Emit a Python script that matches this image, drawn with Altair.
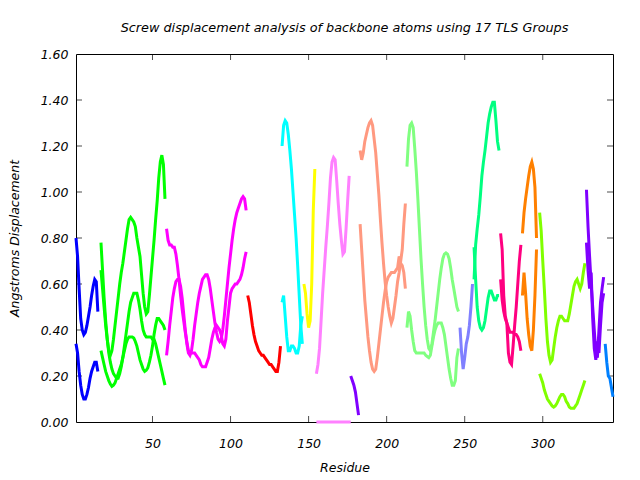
import altair as alt
import pandas as pd

# ---------------- axis ticks ----------------
x_ticks = [50, 100, 150, 200, 250, 300]
y_ticks = [0.2, 0.4, 0.6, 0.8, 1.0, 1.2, 1.4]
x_domain = [1, 345]
y_domain = [0.0, 1.6]

# ---------------- TLS groups & colours ----------------
groups = ["G01", "G02", "G03", "G04", "G05", "G06", "G07", "G08", "G09",
          "G10", "G11", "G12", "G13", "G14", "G15", "G16", "G17"]
group_colors = ["#0000FF", "#00FF00", "#FF00FF", "#FF0000", "#00FFFF", "#FFFF00",
                "#FF80FF", "#8000FF", "#FF9980", "#80FF80", "#8080FF", "#00FF80",
                "#FF0080", "#FF8000", "#80FF00", "#8000FF", "#0080FF"]

# ---------------- series values (start residue + values) ----------------
g01_start = 1
g01_a = [0.80, 0.72, 0.58, 0.45, 0.40, 0.38, 0.39, 0.42, 0.46, 0.50, 0.55, 0.59, 0.62, 0.61, 0.48]
g01_b = [0.34, 0.30, 0.22, 0.16, 0.12, 0.10, 0.10, 0.12, 0.15, 0.19, 0.22, 0.24, 0.26, 0.26, 0.22]

g02_start = 17
g02_a = [0.78, 0.66, 0.54, 0.44, 0.36, 0.31, 0.29, 0.31, 0.36, 0.42, 0.48, 0.54, 0.60, 0.65,
         0.69, 0.74, 0.79, 0.84, 0.88, 0.89, 0.88, 0.87, 0.85, 0.80, 0.76, 0.72, 0.64, 0.56,
         0.50, 0.47, 0.48, 0.55, 0.63, 0.71, 0.79, 0.88, 0.96, 1.06, 1.13, 1.16, 1.12, 0.97]
g02_b = [0.66, 0.58, 0.50, 0.42, 0.36, 0.30, 0.26, 0.23, 0.21, 0.20, 0.19, 0.19, 0.21, 0.24,
         0.28, 0.33, 0.38, 0.43, 0.48, 0.52, 0.54, 0.56, 0.56, 0.56, 0.53, 0.49, 0.44, 0.40,
         0.38, 0.37, 0.37, 0.37, 0.37, 0.36, 0.36, 0.34, 0.31, 0.28, 0.25, 0.22, 0.19, 0.16]
g02_c = [0.31, 0.28, 0.25, 0.22, 0.20, 0.18, 0.165, 0.155, 0.16, 0.17, 0.19, 0.21, 0.23, 0.25,
         0.28, 0.31, 0.34, 0.36, 0.37, 0.37, 0.37, 0.365, 0.35, 0.33, 0.30, 0.27, 0.25, 0.23,
         0.22, 0.225, 0.235, 0.26, 0.29, 0.33, 0.38, 0.42, 0.45, 0.45, 0.44, 0.43, 0.42, 0.40]

g03_start = 59
g03_a = [0.84, 0.79, 0.77, 0.77, 0.76, 0.76, 0.73, 0.68, 0.62, 0.55, 0.49, 0.44, 0.39, 0.35,
         0.31, 0.30, 0.30, 0.30, 0.30, 0.29, 0.28, 0.27, 0.25, 0.24, 0.24, 0.24, 0.26, 0.28,
         0.32, 0.36, 0.39, 0.41, 0.42, 0.41, 0.40, 0.38, 0.34, 0.33, 0.36, 0.44, 0.50, 0.56,
         0.58, 0.59, 0.60, 0.60, 0.61, 0.62, 0.64, 0.67, 0.71, 0.74]
g03_b = [0.29, 0.35, 0.42, 0.48, 0.54, 0.58, 0.61, 0.62, 0.62, 0.59, 0.54, 0.47, 0.40, 0.34,
         0.30, 0.29, 0.31, 0.36, 0.42, 0.47, 0.52, 0.56, 0.59, 0.62, 0.63, 0.64, 0.64, 0.62,
         0.58, 0.53, 0.48, 0.43, 0.39, 0.36, 0.35, 0.36, 0.40, 0.46, 0.53, 0.60, 0.67, 0.73,
         0.79, 0.84, 0.88, 0.91, 0.93, 0.95, 0.97, 0.98, 0.97, 0.92]

g04_start = 111
g04_a = [0.55, 0.52, 0.47, 0.42, 0.38, 0.35, 0.33, 0.31, 0.30, 0.29, 0.29, 0.28, 0.27,
         0.26, 0.25, 0.25, 0.24, 0.23, 0.22, 0.22, 0.26, 0.33]

g05_start = 133
g05_a = [1.20, 1.29, 1.31, 1.30, 1.25, 1.18, 1.10, 1.00, 0.90, 0.80, 0.68, 0.55, 0.42, 0.34]
g05_b = [0.52, 0.55, 0.46, 0.37, 0.31, 0.31, 0.33, 0.33, 0.32, 0.30, 0.30, 0.33, 0.42, 0.46]

g06_start = 147
g06_a = [0.60, 0.56, 0.47, 0.41, 0.44, 0.60, 0.92, 1.10]

g07_start = 155
g07_a = [0.21, 0.25, 0.32, 0.44, 0.56, 0.66, 0.76, 0.85, 0.95, 1.06, 1.13, 1.15, 1.14,
         1.05, 0.95, 0.86, 0.79, 0.73, 0.74, 0.84, 0.96, 1.07]
g07_flat_res = [155, 177]
g07_flat = [0.0, 0.0]

g08_start = 177
g08_a = [0.20, 0.18, 0.16, 0.13, 0.08, 0.03]

g09_start = 183
g09_a = [1.18, 1.14, 1.17, 1.22, 1.25, 1.28, 1.30, 1.31, 1.29, 1.23, 1.17, 1.08, 0.99, 0.88,
         0.78, 0.69, 0.61, 0.55, 0.50, 0.46, 0.43, 0.45, 0.50, 0.55, 0.61, 0.65, 0.70, 0.75,
         0.86, 0.95]
g09_b = [0.86, 0.75, 0.64, 0.53, 0.45, 0.37, 0.31, 0.26, 0.23, 0.22, 0.23, 0.28, 0.34, 0.40,
         0.46, 0.52, 0.57, 0.61, 0.63, 0.64, 0.65, 0.65, 0.65, 0.66, 0.67, 0.72, 0.69, 0.68,
         0.65, 0.58]

g10_start = 213
g10_a = [1.11, 1.23, 1.29, 1.30, 1.28, 1.19, 1.09, 0.97, 0.84, 0.71, 0.60, 0.50, 0.42, 0.36,
         0.32, 0.31, 0.34, 0.39, 0.44, 0.50, 0.56, 0.62, 0.67, 0.71, 0.73, 0.735, 0.73, 0.71,
         0.67, 0.62, 0.58, 0.54, 0.50, 0.48]
g10_b = [0.41, 0.48, 0.46, 0.40, 0.35, 0.31, 0.30, 0.30, 0.30, 0.30, 0.30, 0.30, 0.29, 0.285,
         0.28, 0.29, 0.33, 0.37, 0.40, 0.42, 0.43, 0.43, 0.43, 0.41, 0.38, 0.33, 0.28, 0.23,
         0.19, 0.16, 0.16, 0.18, 0.28, 0.32]

g11_start = 247
g11_a = [0.41, 0.30, 0.23, 0.28, 0.34, 0.37, 0.42, 0.50, 0.60]

g12_start = 256
g12_a = [0.62, 0.77, 0.84, 0.90, 0.98, 1.07, 1.13, 1.18, 1.24, 1.30, 1.34, 1.37, 1.39, 1.39,
         1.31, 1.22, 1.18]
g12_b = [0.76, 0.62, 0.50, 0.44, 0.41, 0.40, 0.41, 0.44, 0.49, 0.54, 0.57, 0.57, 0.55, 0.53,
         0.53, 0.55, 0.55]

g13_start = 273
g13_a = [0.82, 0.75, 0.55, 0.46, 0.43, 0.30, 0.26, 0.25, 0.33, 0.42, 0.50, 0.60, 0.70, 0.77]
g13_b = [0.62, 0.53, 0.48, 0.45, 0.43, 0.41, 0.39, 0.39, 0.39, 0.38, 0.38, 0.37, 0.35, 0.31]

g14_start = 287
g14_a = [0.82, 0.91, 0.97, 1.02, 1.07, 1.11, 1.13, 1.10, 1.02, 0.80]
g14_b = [0.55, 0.65, 0.56, 0.45, 0.38, 0.33, 0.31, 0.40, 0.55, 0.75]

g15_start = 298
g15_a = [0.91, 0.83, 0.70, 0.58, 0.45, 0.35, 0.29, 0.26, 0.27, 0.32, 0.37, 0.41, 0.44, 0.46,
         0.46, 0.45, 0.44, 0.44, 0.44, 0.47, 0.51, 0.55, 0.59, 0.61, 0.62, 0.60, 0.58, 0.60,
         0.65, 0.69]
g15_b = [0.21, 0.19, 0.17, 0.14, 0.12, 0.10, 0.09, 0.08, 0.07, 0.065, 0.07, 0.08, 0.095, 0.11,
         0.12, 0.12, 0.11, 0.09, 0.08, 0.065, 0.06, 0.06, 0.06, 0.07, 0.08, 0.10, 0.12, 0.14,
         0.16, 0.18]

g16_start = 328
g16_a = [1.01, 0.85, 0.72, 0.60, 0.50, 0.40, 0.30, 0.28, 0.40, 0.52, 0.58, 0.63]
g16_b = [0.78, 0.66, 0.58, 0.65, 0.45, 0.32, 0.27, 0.35, 0.30, 0.42, 0.52, 0.56]

g17_start = 340
g17_a = [0.34, 0.26, 0.20, 0.19, 0.15, 0.11]

# ---------------- long table ----------------
curves = [
    ("G01", g01_start, g01_a), ("G01", g01_start, g01_b),
    ("G02", g02_start, g02_a), ("G02", g02_start, g02_b), ("G02", g02_start, g02_c),
    ("G03", g03_start, g03_a), ("G03", g03_start, g03_b),
    ("G04", g04_start, g04_a),
    ("G05", g05_start, g05_a), ("G05", g05_start, g05_b),
    ("G06", g06_start, g06_a),
    ("G07", g07_start, g07_a), ("G07", g07_flat_res, g07_flat),
    ("G08", g08_start, g08_a),
    ("G09", g09_start, g09_a), ("G09", g09_start, g09_b),
    ("G10", g10_start, g10_a), ("G10", g10_start, g10_b),
    ("G11", g11_start, g11_a),
    ("G12", g12_start, g12_a), ("G12", g12_start, g12_b),
    ("G13", g13_start, g13_a), ("G13", g13_start, g13_b),
    ("G14", g14_start, g14_a), ("G14", g14_start, g14_b),
    ("G15", g15_start, g15_a), ("G15", g15_start, g15_b),
    ("G16", g16_start, g16_a), ("G16", g16_start, g16_b),
    ("G17", g17_start, g17_a),
]

rows = []
for ci, (g, start, vals) in enumerate(curves):
    if isinstance(start, list):
        res = start
    else:
        res = [start + i for i in range(len(vals))]
    for r, v in zip(res, vals):
        rows.append({"group": g, "curve": f"c{ci:02d}", "residue": r, "value": v})
df = pd.DataFrame(rows)

FONT = "DejaVu Sans"
W, H = 537, 368

x_scale = alt.Scale(domain=x_domain, nice=False, zero=False)
y_scale = alt.Scale(domain=y_domain, nice=False, zero=False)

lines = alt.Chart(df).mark_line(strokeWidth=3, clip=False).encode(
    x=alt.X("residue:Q", scale=x_scale,
            axis=alt.Axis(values=x_ticks, format="d", title="Residue", ticks=False,
                          domain=False, grid=False, labelPadding=15,
                          titleX=W / 2, titleY=45, titleBaseline="middle")),
    y=alt.Y("value:Q", scale=y_scale,
            axis=alt.Axis(values=[0.0] + y_ticks + [1.6], format=".2f",
                          title="Angstroms Displacement", ticks=False, domain=False,
                          grid=False, labelPadding=8,
                          titleX=-62, titleY=H / 2, titleBaseline="middle")),
    color=alt.Color("group:N", scale=alt.Scale(domain=groups, range=group_colors), legend=None),
    detail="curve:N",
)

xt = pd.DataFrame({"x": x_ticks})
yt = pd.DataFrame({"y": y_ticks})

tick_bottom = alt.Chart(xt).mark_tick(color="black", thickness=1, size=6, orient="vertical").encode(
    x=alt.X("x:Q", scale=x_scale), y=alt.value(H - 3))
tick_top = alt.Chart(xt).mark_tick(color="black", thickness=1, size=6, orient="vertical").encode(
    x=alt.X("x:Q", scale=x_scale), y=alt.value(3))
tick_left = alt.Chart(yt).mark_tick(color="black", thickness=1, size=6, orient="horizontal").encode(
    y=alt.Y("y:Q", scale=y_scale), x=alt.value(3))
tick_right = alt.Chart(yt).mark_tick(color="black", thickness=1, size=6, orient="horizontal").encode(
    y=alt.Y("y:Q", scale=y_scale), x=alt.value(W - 3))

chart = alt.layer(tick_bottom, tick_top, tick_left, tick_right, lines).properties(
    width=W, height=H,
    background="white",
    autosize=alt.AutoSizeParams(type="none"),
    padding={"left": 76, "top": 54, "right": 27, "bottom": 58},
    title=alt.TitleParams(
        "Screw displacement analysis of backbone atoms using 17 TLS Groups",
        font=FONT, fontSize=12.8, fontStyle="italic", fontWeight="normal",
        anchor="middle", offset=13, color="black"),
).configure_view(stroke="black", strokeWidth=1).configure_axis(
    labelFont=FONT, labelFontSize=12.5, labelFontStyle="italic", labelColor="black",
    titleFont=FONT, titleFontSize=12.5, titleFontStyle="italic", titleFontWeight="normal",
    titleColor="black",
)

chart.save("out.html", embed_options={"renderer": "svg", "actions": False})
